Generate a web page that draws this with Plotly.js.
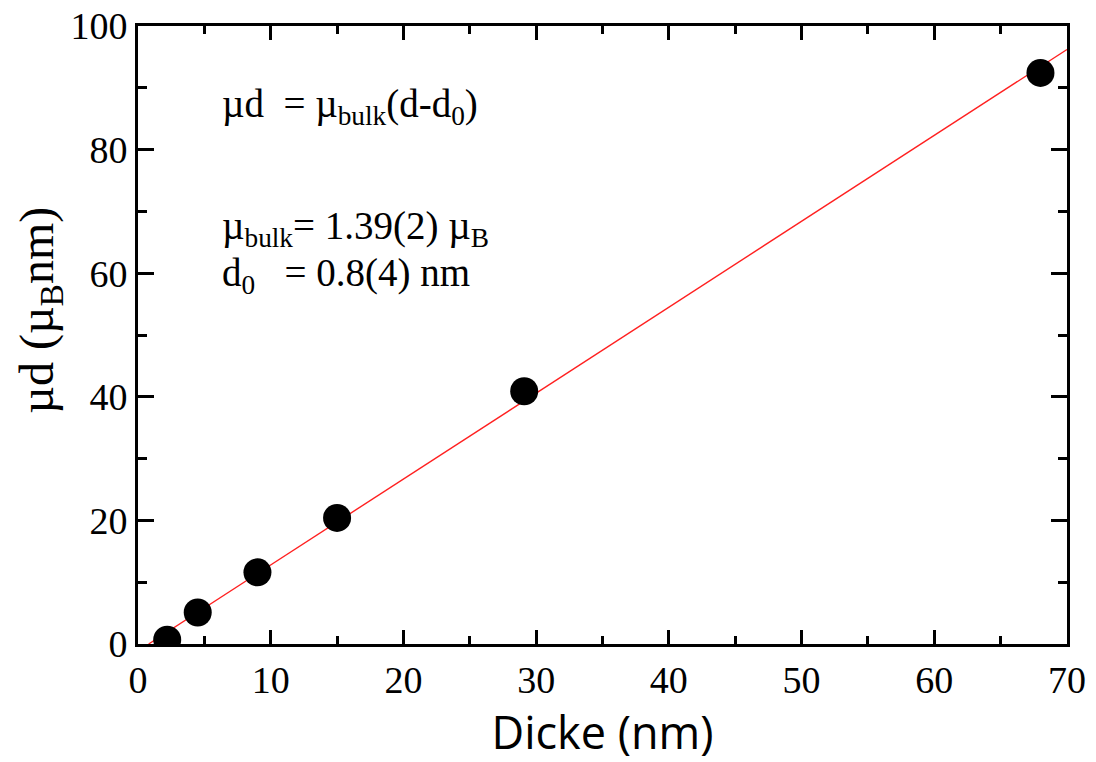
<!DOCTYPE html>
<html>
<head>
<meta charset="utf-8">
<script src="https://cdn.plot.ly/plotly-3.0.1.min.js"></script>
<style>
html,body{margin:0;padding:0;background:#fff;}
#chart{width:1096px;height:762px;}
</style>
</head>
<body>
<div id="chart"></div>
<script>
// Measured data points
var thickness = [2.2, 4.5, 9.0, 15.0, 29.1, 68.0];      // Dicke (nm)
var moment = [0.7, 5.1, 11.6, 20.4, 40.9, 92.4];        // µd (µB nm)
// Linear fit line endpoints (µd = 1.39 (d - 0.8))
var fitX = [0.8, 70];
var fitY = [0, 96.2];

var serif = "Liberation Serif, Times New Roman, serif";

var traces = [
  {
    x: fitX, y: fitY, type: 'scatter', mode: 'lines',
    line: {color: '#ff2020', width: 1.4},
    hoverinfo: 'skip', showlegend: false
  },
  {
    x: thickness, y: moment, type: 'scatter', mode: 'markers',
    marker: {color: '#000', size: 28, line: {width: 0}},
    showlegend: false
  }
];

function axisCommon() {
  return {
    showline: true, linecolor: '#000', linewidth: 3,
    mirror: 'ticks', ticks: 'inside', tickwidth: 3, tickcolor: '#000',
    showgrid: false, zeroline: false,
    tickfont: {family: serif, size: 38, color: '#000'}
  };
}

var xaxis = axisCommon();
Object.assign(xaxis, {
  range: [0, 70], dtick: 10, tick0: 0, ticklen: 14,
  minor: {dtick: 5, ticklen: 8, tickwidth: 3, tickcolor: '#000', ticks: 'inside'},
  title: {text: 'Dicke (nm)', font: {family: 'Open Sans, sans-serif', size: 45, color: '#000'}, standoff: 18}
});
var yaxis = axisCommon();
Object.assign(yaxis, {
  range: [0, 100], dtick: 20, tick0: 0, ticklen: 16,
  minor: {dtick: 10, ticklen: 9, tickwidth: 3, tickcolor: '#000', ticks: 'inside'}
});

var annFont = {family: serif, size: 39, color: '#000'};
var layout = {
  width: 1096, height: 762,
  margin: {l: 138, r: 29, t: 26, b: 118},
  paper_bgcolor: '#fff', plot_bgcolor: '#fff',
  xaxis: xaxis, yaxis: yaxis,
  showlegend: false,
  annotations: [
    {x: -0.105, y: 0.54, xref: 'paper', yref: 'paper', xanchor: 'center', yanchor: 'middle', showarrow: false,
     textangle: -90, text: 'µd (µ<sub>B</sub>nm)', font: {family: serif, size: 48, color: '#000'}},
    {x: 6.2, y: 87, xref: 'x', yref: 'y', xanchor: 'left', yanchor: 'middle', showarrow: false,
     text: 'µd\u00A0 = µ<sub>bulk</sub>(d-d<sub>0</sub>)', font: annFont},
    {x: 6.2, y: 67.3, xref: 'x', yref: 'y', xanchor: 'left', yanchor: 'middle', showarrow: false,
     text: 'µ<sub>bulk</sub>= 1.39(2) µ<sub>B</sub>', font: annFont},
    {x: 6.2, y: 59.6, xref: 'x', yref: 'y', xanchor: 'left', yanchor: 'middle', showarrow: false,
     text: 'd<sub>0</sub>\u00A0\u00A0 = 0.8(4) nm', font: annFont}
  ]
};

Plotly.newPlot('chart', traces, layout, {displayModeBar: false, staticPlot: true});
</script>
</body>
</html>
